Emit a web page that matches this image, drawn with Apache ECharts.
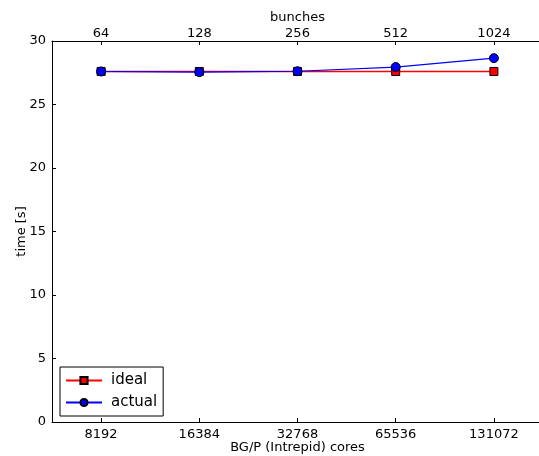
<!DOCTYPE html>
<html>
<head>
<meta charset="utf-8">
<script src="https://cdn.jsdelivr.net/npm/echarts@6/dist/echarts.min.js"></script>
<style>
html, body { margin: 0; padding: 0; background: #fff; }
#chart { width: 539px; height: 456px; }
</style>
</head>
<body>
<div id="chart"></div>
<script>
// values
const cores = ['8192', '16384', '32768', '65536', '131072']
const bunches = ['64', '128', '256', '512', '1024']
const ideal = [27.6, 27.6, 27.6, 27.6, 27.6]
const actual = [27.6, 27.55, 27.62, 27.95, 28.65]

const font = 'DejaVu Sans'
const chart = echarts.init(document.getElementById('chart'))

const axisLine = { show: true, lineStyle: { color: '#000', width: 1 } }
const axisTick = { show: true, inside: true, length: 4, alignWithLabel: true, lineStyle: { color: '#000' } }

chart.setOption({
  animation: false,
  textStyle: { fontFamily: font },
  grid: { left: 52, top: 41, width: 491, height: 381, containLabel: false, outerBoundsMode: 'none' },
  legend: {
    orient: 'vertical',
    left: 60,
    top: 367,
    itemWidth: 36,
    itemHeight: 9,
    itemGap: 7,
    padding: [6, 6, 6, 5],
    borderColor: '#000',
    borderWidth: 1,
    backgroundColor: '#fff',
    borderRadius: 0,
    textStyle: { fontFamily: font, fontSize: 15, color: '#000', padding: [0, 0, 0, 4] },
    data: ['ideal', 'actual']
  },
  xAxis: [
    {
      type: 'category',
      data: cores,
      position: 'bottom',
      name: 'BG/P (Intrepid) cores',
      nameLocation: 'middle',
      nameGap: 19,
      nameMoveOverlap: false,
      nameTextStyle: { fontFamily: font, fontSize: 13, color: '#000' },
      axisLine: axisLine,
      axisTick: axisTick,
      axisLabel: { margin: 6, fontFamily: font, fontSize: 13, color: '#000' },
      splitLine: { show: false }
    },
    {
      type: 'category',
      data: bunches,
      position: 'top',
      name: 'bunches',
      nameLocation: 'middle',
      nameGap: 17,
      nameMoveOverlap: false,
      nameTextStyle: { fontFamily: font, fontSize: 13, color: '#000' },
      axisLine: axisLine,
      axisTick: axisTick,
      axisLabel: { margin: 1, fontFamily: font, fontSize: 13, color: '#000' },
      splitLine: { show: false }
    }
  ],
  yAxis: {
    type: 'value',
    min: 0,
    max: 30,
    interval: 5,
    name: 'time [s]',
    nameLocation: 'middle',
    nameGap: 24,
    nameMoveOverlap: false,
    nameTextStyle: { fontFamily: font, fontSize: 13, color: '#000' },
    axisLine: axisLine,
    axisTick: { show: true, inside: true, length: 4, lineStyle: { color: '#000' } },
    axisLabel: { margin: 6, fontFamily: font, fontSize: 13, color: '#000' },
    splitLine: { show: false }
  },
  series: [
    {
      name: 'ideal',
      type: 'line',
      data: ideal,
      xAxisIndex: 0,
      symbol: 'rect',
      symbolSize: 8,
      color: '#ff0000',
      lineStyle: { color: '#ff0000', width: 1.5 },
      itemStyle: { color: '#ff0000', borderColor: '#000', borderWidth: 1 }
    },
    {
      name: 'actual',
      type: 'line',
      data: actual,
      xAxisIndex: 0,
      symbol: 'circle',
      symbolSize: 9,
      color: '#0000ff',
      lineStyle: { color: '#0000ff', width: 1.2 },
      itemStyle: { color: '#0000ff', borderColor: '#000', borderWidth: 1 }
    }
  ]
})
</script>
</body>
</html>
